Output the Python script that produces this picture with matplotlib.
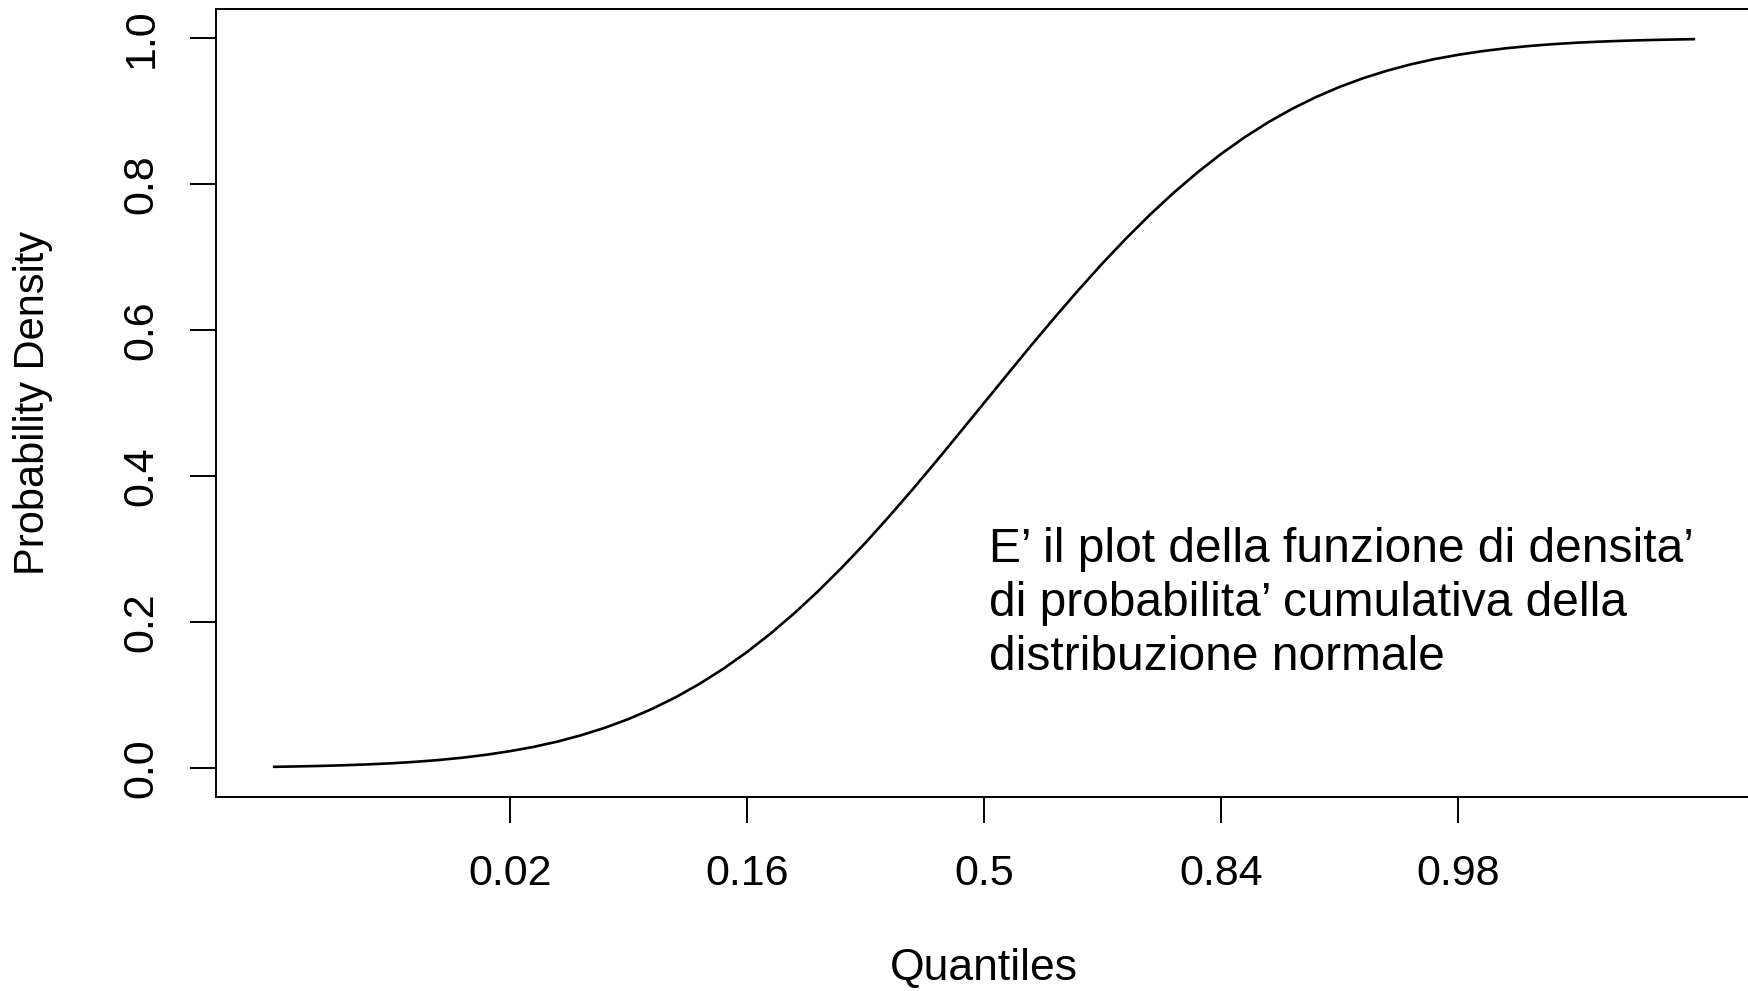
import matplotlib
matplotlib.use("Agg")
import matplotlib.pyplot as plt
from matplotlib import font_manager

# valori (quantili standard e cdf)
quantili = [-3.0, -2.9, -2.8, -2.7, -2.6, -2.5, -2.4, -2.3, -2.2, -2.1,
            -2.0, -1.9, -1.8, -1.7, -1.6, -1.5, -1.4, -1.3, -1.2, -1.1,
            -1.0, -0.9, -0.8, -0.7, -0.6, -0.5, -0.4, -0.3, -0.2, -0.1,
            0.0, 0.1, 0.2, 0.3, 0.4, 0.5, 0.6, 0.7, 0.8, 0.9,
            1.0, 1.1, 1.2, 1.3, 1.4, 1.5, 1.6, 1.7, 1.8, 1.9,
            2.0, 2.1, 2.2, 2.3, 2.4, 2.5, 2.6, 2.7, 2.8, 2.9, 3.0]
cdf = [0.0013, 0.0019, 0.0026, 0.0035, 0.0047, 0.0062, 0.0082, 0.0107, 0.0139, 0.0179,
       0.0228, 0.0287, 0.0359, 0.0446, 0.0548, 0.0668, 0.0808, 0.0968, 0.1151, 0.1357,
       0.1587, 0.1841, 0.2119, 0.2420, 0.2743, 0.3085, 0.3446, 0.3821, 0.4207, 0.4602,
       0.5000, 0.5398, 0.5793, 0.6179, 0.6554, 0.6915, 0.7257, 0.7580, 0.7881, 0.8159,
       0.8413, 0.8643, 0.8849, 0.9032, 0.9192, 0.9332, 0.9452, 0.9554, 0.9641, 0.9713,
       0.9772, 0.9821, 0.9861, 0.9893, 0.9918, 0.9938, 0.9953, 0.9965, 0.9974, 0.9981, 0.9987]

x_ticks = [-2, -1, 0, 1, 2]
x_tick_labels = ["0.02", "0.16", "0.5", "0.84", "0.98"]
y_ticks = [0.0, 0.2, 0.4, 0.6, 0.8, 1.0]
y_tick_labels = ["0.0", "0.2", "0.4", "0.6", "0.8", "1.0"]

nota = "E\u2019 il plot della funzione di densita\u2019\ndi probabilita\u2019 cumulativa della\ndistribuzione normale"

plt.rcParams['font.family'] = ['Liberation Sans', 'DejaVu Sans']
nomi = {f.name for f in font_manager.fontManager.ttflist}
font_nota = 'Liberation Sans Narrow' if 'Liberation Sans Narrow' in nomi else 'Liberation Sans'

fig = plt.figure(figsize=(17.48, 9.91), dpi=100)
ax = fig.add_axes([216 / 1748, 1 - 797 / 991, (1752 - 216) / 1748, (797 - 9) / 991])

ax.plot(quantili, cdf, color='black', lw=1.9, solid_capstyle='butt')
ax.set_xlim(-3.24, 3.24)
ax.set_ylim(-0.04, 1.04)

ax.set_xticks(x_ticks)
ax.set_xticklabels(x_tick_labels)
ax.set_yticks(y_ticks)
ax.set_yticklabels(y_tick_labels, rotation=90, va='center')
ax.tick_params(axis='both', length=19, width=1.4, labelsize=31, direction='out')
ax.tick_params(axis='x', pad=22)
ax.tick_params(axis='y', pad=20)

for s in ax.spines.values():
    s.set_linewidth(1.4)

ax.set_xlabel("Quantiles", fontsize=32)
ax.xaxis.set_label_coords(0.5, (797 - 968) / 788)
ax.xaxis.label.set_verticalalignment('center')
ax.set_ylabel("Probability Density", fontsize=30)
ax.yaxis.set_label_coords((33 - 216) / 1536, 0.5)
ax.yaxis.label.set_verticalalignment('center')

ax.text(0.02, 0.225, nota, family=[font_nota, 'DejaVu Sans'], fontsize=34.5,
        ha='left', va='center', linespacing=1.25)

fig.savefig("out.png", dpi=100)
